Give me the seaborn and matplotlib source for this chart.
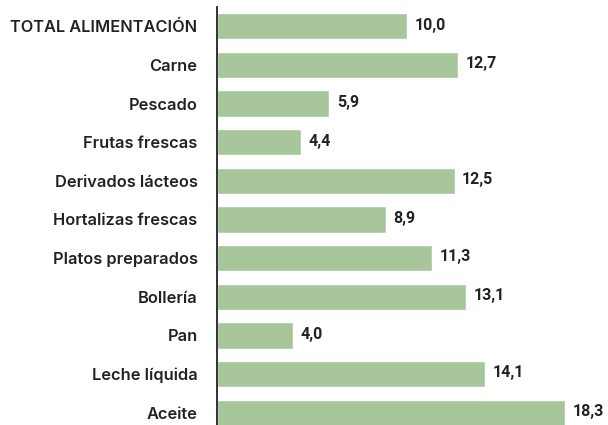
import matplotlib
matplotlib.use("Agg")
import matplotlib.pyplot as plt
import seaborn as sns
import pandas as pd

categorias = ["TOTAL ALIMENTACIÓN", "Carne", "Pescado", "Frutas frescas",
              "Derivados lácteos", "Hortalizas frescas", "Platos preparados",
              "Bollería", "Pan", "Leche líquida", "Aceite"]
valores = [10.0, 12.7, 5.9, 4.4, 12.5, 8.9, 11.3, 13.1, 4.0, 14.1, 18.3]

df = pd.DataFrame({"categoria": categorias, "valor": valores})

sns.set_theme(style="white")
plt.rcParams["font.family"] = ["Inter", "DejaVu Sans"]

fig = plt.figure(figsize=(6.08, 4.25), dpi=100)
ax = fig.add_axes([217 / 608, 0.0, 1 - 217 / 608, 1 - 7 / 425])

sns.barplot(data=df, x="valor", y="categoria", orient="h", color="#a8c69b",
            saturation=1, width=0.68, ax=ax)

ax.set_xlim(0, (608 - 217) / 19)
ax.set_ylim(10.32, -0.5)
ax.set_xlabel("")
ax.set_ylabel("")
ax.set_xticks([])
for s in ["top", "right", "bottom"]:
    ax.spines[s].set_visible(False)
ax.spines["left"].set_color("#222222")
ax.spines["left"].set_linewidth(1.3)
ax.tick_params(axis="y", length=0, pad=14)
for lbl in ax.get_yticklabels():
    lbl.set_fontsize(11.8)
    lbl.set_fontweight("semibold")
    lbl.set_color("#222222")

for i, v in enumerate(valores):
    ax.text(v + 0.4, i - 0.03, f"{v:.1f}".replace(".", ","), va="center",
            ha="left", fontsize=11.5, fontweight="bold", color="#222222",
            family=["Roboto", "DejaVu Sans"], clip_on=False)

fig.savefig("out.png", dpi=100)
